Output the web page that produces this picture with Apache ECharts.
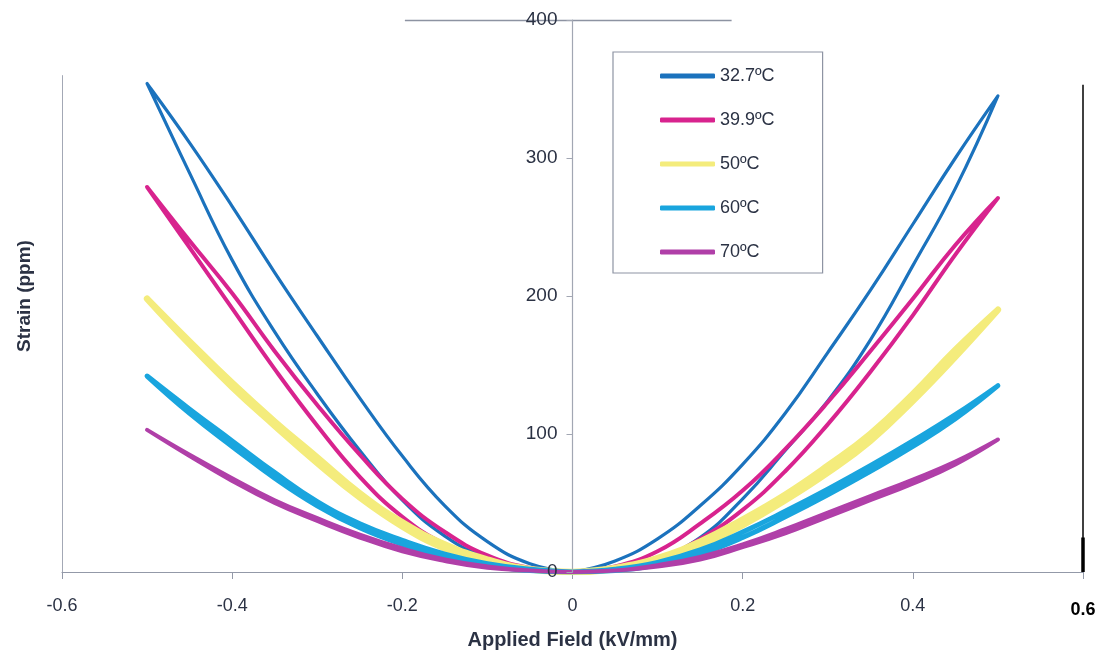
<!DOCTYPE html>
<html>
<head>
<meta charset="utf-8">
<script src="https://cdn.jsdelivr.net/npm/echarts@6/dist/echarts.min.js"></script>
<style>html,body{margin:0;padding:0;background:#fff}#c{width:1104px;height:655px}</style>
</head>
<body>
<div id="c"></div>
<script>
// |field| sample points (kV/mm)
var fieldSteps = [0, 0.05, 0.1, 0.15, 0.2, 0.25, 0.3, 0.35, 0.4, 0.45, 0.5];
var temps = ['32.7ºC', '39.9ºC', '50ºC', '60ºC', '70ºC'];
var xTicks = ['-0.6', '-0.4', '-0.2', '0', '0.2', '0.4', '0.6'];

// strain (ppm) — positive field side, two branches of each loop
var t327RightA = [0, 8, 24, 48, 78, 115, 159, 204, 252, 300, 345];
var t327RightB = [0, 3, 10, 25, 53, 88, 124, 168, 222, 278, 345];
// negative field side, two branches
var t327LeftA = [0, 6, 22, 48, 84, 126, 171, 217, 265, 311, 354];
var t327LeftB = [0, 2, 10, 26, 52, 88, 129, 174, 226, 289, 354];

var t399RightA = [0, 4, 15, 35, 59, 89, 123, 160, 198, 237, 271];
var t399RightB = [0, 2, 9, 24, 45, 73, 107, 145, 186, 230, 271];
var t399LeftA = [0, 3, 12, 29, 53, 85, 121, 160, 202, 240, 279];
var t399LeftB = [0, 2, 8, 20, 40, 69, 106, 147, 191, 235, 279];

var t50RightA = [0, 3, 10, 22, 38, 56, 77, 100, 129, 161, 190];
var t50RightB = [0, 2, 8, 19, 34, 52, 72, 95, 124, 156, 190];
var t50LeftA = [0, 2, 9, 20, 36, 57, 83, 109, 137, 167, 198];
var t50LeftB = [0, 2, 7, 17, 33, 54, 79, 106, 134, 165, 198];

var t60RightA = [0, 2, 7, 16, 29, 44, 60, 77, 95, 114, 135];
var t60RightB = [0, 1, 5, 13, 25, 40, 56, 73, 91, 111, 135];
var t60LeftA = [0, 2, 6, 13, 23, 35, 51, 72, 95, 118, 142];
var t60LeftB = [0, 1, 5, 11, 20, 32, 48, 68, 91, 115, 142];

var t70RightA = [0, 1, 5, 11, 20, 31, 43, 55, 67, 80, 96];
var t70RightB = [0, 1, 4, 9, 18, 28, 40, 52, 64, 78, 96];
var t70LeftA = [0, 1, 4, 9, 17, 27, 39, 52, 68, 85, 103];
var t70LeftB = [0, 1, 3, 8, 15, 25, 37, 50, 66, 84, 103];

function loop(rA, rB, lA, lB) {
  var pts = [], i, n = fieldSteps.length;
  for (i = 0; i < n; i++) pts.push([fieldSteps[i], rA[i]]);
  for (i = n - 2; i >= 0; i--) pts.push([fieldSteps[i], rB[i]]);
  for (i = 1; i < n; i++) pts.push([-fieldSteps[i], lB[i]]);
  for (i = n - 2; i >= 0; i--) pts.push([-fieldSteps[i], lA[i]]);
  return pts;
}

var loops = [
  loop(t327RightA, t327RightB, t327LeftA, t327LeftB),
  loop(t399RightA, t399RightB, t399LeftA, t399LeftB),
  loop(t50RightA, t50RightB, t50LeftA, t50LeftB),
  loop(t60RightA, t60RightB, t60LeftA, t60LeftB),
  loop(t70RightA, t70RightB, t70LeftA, t70LeftB)
];
var colors = ['#1b72bd', '#d8238e', '#f4ec7c', '#19a5de', '#b03fa8'];
var widths = [3.2, 4, 6.5, 5, 4];

var txt = '#2b3244';
var font = 'Liberation Sans, Arial, sans-serif';

var series = loops.map(function (d, k) {
  return {
    name: temps[k], type: 'line', data: d, smooth: 0.45, showSymbol: false, symbol: 'none',
    lineStyle: { color: colors[k], width: widths[k], cap: 'round', join: 'round' },
    itemStyle: { color: colors[k] }, z: 3 + k
  };
});
series[0].markLine = {
  silent: true, symbol: 'none', label: { show: false }, animation: false,
  data: [
    [{ coord: [-0.197, 400], lineStyle: { color: '#8d93a2', width: 1.3, type: 'solid' } }, { coord: [0.187, 400] }],
    [{ coord: [-0.6, 0], lineStyle: { color: '#a3a8b5', width: 1, type: 'solid' } }, { coord: [-0.6, 360] }],
    [{ coord: [0.6, 0], lineStyle: { color: '#000', width: 1.5, type: 'solid' } }, { coord: [0.6, 353] }],
    [{ coord: [0.6, 0], lineStyle: { color: '#000', width: 3.5, type: 'solid' } }, { coord: [0.6, 25] }]
  ]
};

var chart = echarts.init(document.getElementById('c'), null, { renderer: 'canvas' });
chart.setOption({
  animation: false,
  backgroundColor: '#fff',
  textStyle: { fontFamily: font },
  grid: { left: 62, right: 21, top: 20, bottom: 83, containLabel: false, outerBoundsMode: 'none' },
  legend: {
    orient: 'vertical', left: 613, top: 52,
    padding: [14, 48, 11, 47],
    itemWidth: 55, itemHeight: 5, itemGap: 24,
    icon: 'roundRect',
    backgroundColor: '#fff', borderColor: '#8e94a3', borderWidth: 1.2, borderRadius: 0,
    textStyle: { fontSize: 18, color: txt, fontFamily: font, lineHeight: 20 },
    data: temps
  },
  xAxis: {
    type: 'value', min: -0.6, max: 0.6, interval: 0.2,
    name: 'Applied Field (kV/mm)', nameLocation: 'middle', nameGap: 58,
    nameTextStyle: { fontSize: 20, fontWeight: 'bold', color: txt, fontFamily: font },
    axisLine: { show: true, onZero: false, lineStyle: { color: '#9399a8', width: 1.2 } },
    axisTick: { show: true, length: 7, lineStyle: { color: '#9399a8' } },
    splitLine: { show: false },
    axisLabel: {
      fontSize: 18, color: txt, margin: 25, fontFamily: font,
      formatter: function (v) {
        var i = Math.round(v / 0.2) + 3;
        var s = xTicks[i];
        return i === 6 ? '{b|' + s + '}' : s;
      },
      rich: { b: { fontSize: 18, fontWeight: 'bold', color: '#000', padding: [4, 0, 0, 0], fontFamily: font } }
    }
  },
  yAxis: {
    type: 'value', min: 0, max: 400, interval: 100,
    offset: -510.5, z: 12,
    name: 'Strain (ppm)', nameLocation: 'middle', nameGap: 538,
    nameTextStyle: { fontSize: 19, fontWeight: 'bold', color: txt, fontFamily: font },
    axisLine: { show: true, onZero: false, lineStyle: { color: '#a2a7b3', width: 1.2 } },
    axisTick: { show: true, length: 6, lineStyle: { color: '#a2a7b3' } },
    splitLine: { show: false },
    axisLabel: { fontSize: 19, color: txt, margin: 15, fontFamily: font }
  },
  series: series
});
</script>
</body>
</html>
